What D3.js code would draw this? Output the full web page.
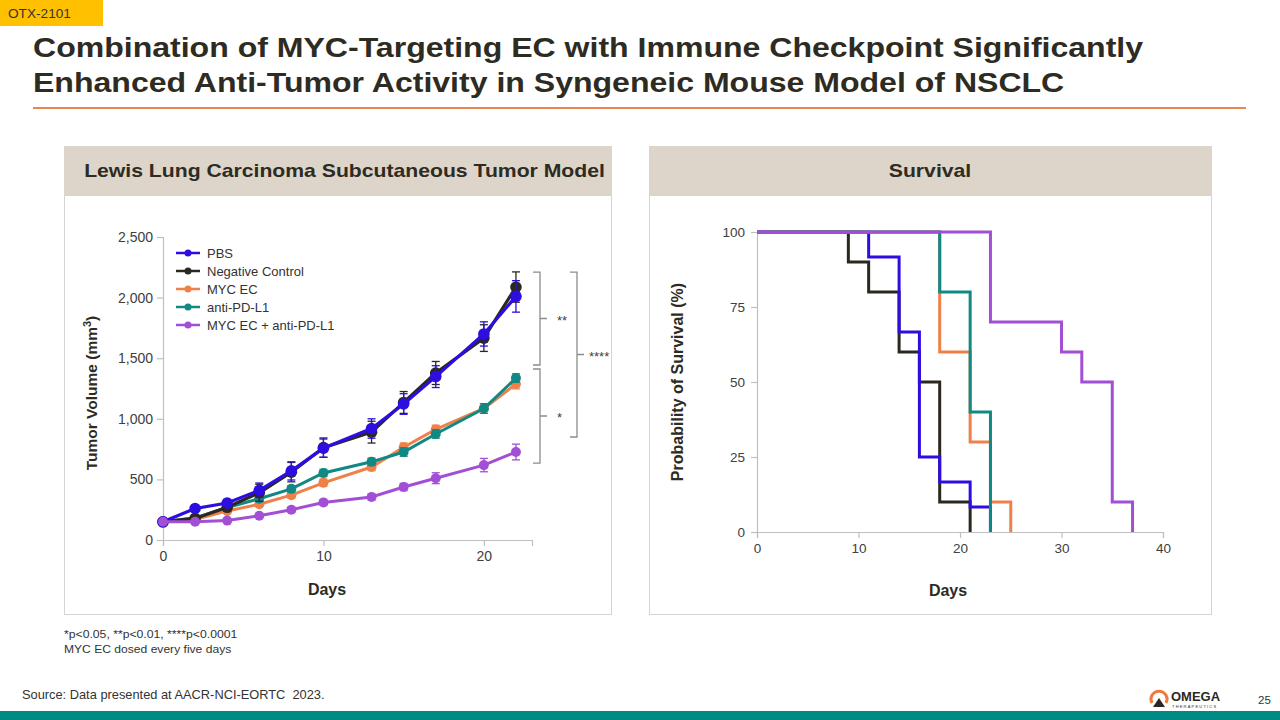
<!DOCTYPE html>
<html><head><meta charset="utf-8">
<script src="https://cdn.jsdelivr.net/npm/d3@7"></script>
<style>
html,body{margin:0;padding:0;background:#fff;}
svg{display:block;font-family:"Liberation Sans",Arial,sans-serif;}
</style></head>
<body><svg id="c" width="1280" height="720"></svg>
<script>
// ---------- DATA ----------
const days = [0, 2, 4, 6, 8, 10, 13, 15, 17, 20, 22];
const seriesNames = ["PBS", "Negative Control", "MYC EC", "anti-PD-L1", "MYC EC + anti-PD-L1"];
const volPBS   = [150, 260, 305, 410, 570, 758, 920, 1122, 1348, 1700, 2010];
const volNeg   = [150, 178, 270, 390, 560, 762, 890, 1135, 1378, 1666, 2087];
const volMYC   = [150, 170, 240, 295, 370, 472, 602, 765, 912, 1085, 1287];
const volPDL1  = [150, 183, 268, 340, 422, 553, 645, 726, 875, 1085, 1336];
const volCombo = [150, 150, 160, 200, 250, 310, 355, 437, 510, 618, 726];
const errPBS   = [0, 20, 30, 60, 75, 75, 80, 85, 90, 100, 130];
const errNeg   = [0, 20, 30, 70, 80, 80, 90, 90, 95, 110, 125];
const errMYC   = [0, 10, 15, 20, 25, 30, 30, 35, 35, 40, 40];
const errPDL1  = [0, 10, 15, 20, 25, 30, 30, 35, 35, 40, 35];
const errCombo = [0, 10, 10, 15, 20, 25, 25, 30, 45, 55, 65];
const volTicks = [0, 500, 1000, 1500, 2000, 2500];
const dayTicks = [0, 10, 20];
// significance brackets: [top value, bottom value, label]
const sigLabels = ["**", "*", "****"];
const sigTop    = [2211, 1411, 2211];
const sigBottom = [1444, 635, 850];

// Kaplan-Meier survival (time, % survival)
const survTimePBS   = [0, 11, 14, 16, 18, 21, 23];
const survPctPBS    = [100, 91.7, 66.7, 25, 16.7, 8.3, 0];
const survTimeNeg   = [0, 9, 11, 14, 16, 18, 21];
const survPctNeg    = [100, 90, 80, 60, 50, 10, 0];
const survTimeMYC   = [0, 18, 21, 23, 25];
const survPctMYC    = [100, 60, 30, 10, 0];
const survTimePDL1  = [0, 18, 21, 23];
const survPctPDL1   = [100, 80, 40, 0];
const survTimeCombo = [0, 23, 30, 32, 35, 37];
const survPctCombo  = [100, 70, 60, 50, 10, 0];
const survYTicks = [0, 25, 50, 75, 100];
const survXTicks = [0, 10, 20, 30, 40];

const colors = {
  "PBS": "#2d0ee0",
  "Negative Control": "#2c2820",
  "MYC EC": "#ef8048",
  "anti-PD-L1": "#108884",
  "MYC EC + anti-PD-L1": "#a24fd6"
};

// ---------- PAGE ----------
const svg = d3.select("#c");
const textCol = "#2e2b22";

// horizontally stretched slide text
function stext(x, y, str, size, opts = {}) {
  const sx = opts.sx || 1.12;
  const g = svg.append("g").attr("transform", `translate(${x},${y}) scale(${sx},1)`);
  const t = g.append("text").attr("x", 0).attr("y", 0).attr("font-size", size)
    .attr("fill", opts.fill || "#333").attr("text-anchor", opts.anchor || "start")
    .style("white-space", "pre");
  if (opts.bold) t.attr("font-weight", "bold");
  t.text(str);
  return t;
}

svg.append("rect").attr("x",0).attr("y",0).attr("width",103).attr("height",26).attr("fill","#ffc000");
stext(8, 18, "OTX-2101", 13, {sx:1.05});

stext(33, 57, "Combination of MYC-Targeting EC with Immune Checkpoint Significantly", 28, {bold:true, fill:textCol, sx:1.145});
stext(33, 92, "Enhanced Anti-Tumor Activity in Syngeneic Mouse Model of NSCLC", 28, {bold:true, fill:textCol, sx:1.145});

svg.append("line").attr("x1",33).attr("x2",1246).attr("y1",108).attr("y2",108).attr("stroke","#ea8450").attr("stroke-width",2);

function panel(x, w, label, dx){
  svg.append("rect").attr("x",x+0.5).attr("y",195.5).attr("width",w).attr("height",419).attr("fill","#fff").attr("stroke","#d4d4d4");
  svg.append("rect").attr("x",x).attr("y",146).attr("width",w+1).attr("height",49).attr("fill","#ddd5c9");
  stext(x+w/2+dx, 177, label, 19, {bold:true, fill:textCol, anchor:"middle", sx:1.115});
}
panel(64, 547, "Lewis Lung Carcinoma Subcutaneous Tumor Model", 7);
panel(649, 562, "Survival", 0);

// ---------- LEFT CHART ----------
const x1 = d3.scaleLinear().domain([0, 23]).range([163, 532]);
const y1 = d3.scaleLinear().domain([0, 2500]).range([540, 237]);
const axisCol = "#bfbfbf", tickText = "#404040";

function styleAxis(g, fs){
  g.selectAll("path,line").attr("stroke",axisCol).attr("stroke-width",1.2);
  g.selectAll("text").attr("fill",tickText).attr("font-size",fs).attr("font-family","Liberation Sans, Arial, sans-serif");
}
const gyl = svg.append("g").attr("transform","translate(163,0)")
  .call(d3.axisLeft(y1).tickValues(volTicks).tickFormat(d3.format(",")).tickSizeOuter(0).tickSize(6).tickPadding(4));
styleAxis(gyl, 14);
const gxl = svg.append("g").attr("transform","translate(0,540)")
  .call(d3.axisBottom(x1).tickValues(dayTicks).tickSizeOuter(0).tickSize(6).tickPadding(5));
styleAxis(gxl, 14);

svg.append("text").attr("transform","translate(97,393) rotate(-90)").attr("text-anchor","middle")
  .attr("font-size",15.5).attr("font-weight","bold").attr("fill",textCol)
  .html('Tumor Volume (mm<tspan dy="-6" font-size="11">3</tspan><tspan dy="6">)</tspan>');
svg.append("text").attr("x",327).attr("y",595).attr("text-anchor","middle").attr("font-size",16).attr("font-weight","bold").attr("fill",textCol).text("Days");

const growth = {
  "PBS": [volPBS, errPBS],
  "Negative Control": [volNeg, errNeg],
  "MYC EC": [volMYC, errMYC],
  "anti-PD-L1": [volPDL1, errPDL1],
  "MYC EC + anti-PD-L1": [volCombo, errCombo]
};
const drawOrder = ["MYC EC", "anti-PD-L1", "Negative Control", "PBS", "MYC EC + anti-PD-L1"];
const lineGen = d3.line().x(d => x1(d.day)).y(d => y1(d.v));
drawOrder.forEach(name => {
  const [vals, errs] = growth[name];
  const pts = days.map((d, i) => ({day: d, v: vals[i], e: errs[i]}));
  const g = svg.append("g");
  const col = colors[name];
  const big = (name === "PBS" || name === "Negative Control");
  pts.forEach(p => {
    if (p.e <= 0) return;
    const xx = x1(p.day);
    g.append("line").attr("x1",xx).attr("x2",xx).attr("y1",y1(p.v - p.e)).attr("y2",y1(p.v + p.e)).attr("stroke",col).attr("stroke-width",1.3);
    [p.v - p.e, p.v + p.e].forEach(v => g.append("line").attr("x1",xx-4).attr("x2",xx+4).attr("y1",y1(v)).attr("y2",y1(v)).attr("stroke",col).attr("stroke-width",1.3));
  });
  g.append("path").datum(pts).attr("d",lineGen).attr("fill","none").attr("stroke",col).attr("stroke-width",big?3.2:3);
  g.selectAll("circle").data(pts).join("circle").attr("cx",d => x1(d.day)).attr("cy",d => y1(d.v)).attr("r",big?5.8:5).attr("fill",col);
});

// legend
seriesNames.forEach((name, i) => {
  const yy = 253 + i * 18;
  svg.append("line").attr("x1",176).attr("x2",200).attr("y1",yy).attr("y2",yy).attr("stroke",colors[name]).attr("stroke-width",2.5);
  svg.append("circle").attr("cx",188).attr("cy",yy).attr("r",3.5).attr("fill",colors[name]);
  svg.append("text").attr("x",207).attr("y",yy+4.5).attr("font-size",13).attr("fill","#333").text(name);
});

// significance brackets
const bracketX = [533, 533, 570];
const labelDx  = [24, 24, 19];
sigLabels.forEach((label, i) => {
  const xb = bracketX[i], yTop = y1(sigTop[i]), yBot = y1(sigBottom[i]);
  const mid = (yTop + yBot) / 2, w = 7;
  const p = `M${xb},${yTop} h${w} V${yBot} h${-w} M${xb+w},${mid} h${w}`;
  svg.append("path").attr("d",p).attr("fill","none").attr("stroke","#8c8c8c").attr("stroke-width",1.3);
  svg.append("text").attr("x",xb+labelDx[i]).attr("y",mid+6).attr("font-size",13).attr("fill","#404040").text(label);
});

// ---------- RIGHT CHART ----------
const x2 = d3.scaleLinear().domain([0, 40]).range([757, 1163]);
const y2 = d3.scaleLinear().domain([0, 100]).range([532, 232]);
const gyr = svg.append("g").attr("transform","translate(757,0)")
  .call(d3.axisLeft(y2).tickValues(survYTicks).tickSizeOuter(0).tickSize(6).tickPadding(6));
styleAxis(gyr, 13.5);
const gxr = svg.append("g").attr("transform","translate(0,532)")
  .call(d3.axisBottom(x2).tickValues(survXTicks).tickSizeOuter(0).tickSize(6).tickPadding(5));
styleAxis(gxr, 13.5);

svg.append("text").attr("transform","translate(683,382) rotate(-90)").attr("text-anchor","middle")
  .attr("font-size",16).attr("font-weight","bold").attr("fill",textCol).text("Probability of Survival (%)");
svg.append("text").attr("x",948).attr("y",596).attr("text-anchor","middle").attr("font-size",16).attr("font-weight","bold").attr("fill",textCol).text("Days");

const surv = {
  "Negative Control": [survTimeNeg, survPctNeg],
  "PBS": [survTimePBS, survPctPBS],
  "MYC EC": [survTimeMYC, survPctMYC],
  "anti-PD-L1": [survTimePDL1, survPctPDL1],
  "MYC EC + anti-PD-L1": [survTimeCombo, survPctCombo]
};
const stepGen = d3.line().x(d => x2(d[0])).y(d => y2(d[1])).curve(d3.curveStepAfter);
["Negative Control", "PBS", "MYC EC", "anti-PD-L1", "MYC EC + anti-PD-L1"].forEach(name => {
  const [ts, ps] = surv[name];
  const pts = ts.map((t, i) => [t, ps[i]]);
  svg.append("path").datum(pts).attr("d",stepGen).attr("fill","none").attr("stroke",colors[name]).attr("stroke-width",3);
});

// ---------- FOOTNOTES ----------
stext(64, 638, "*p<0.05, **p<0.01, ****p<0.0001", 11, {sx:1.11});
stext(64, 653, "MYC EC dosed every five days", 11, {sx:1.1});
stext(22, 699, "Source: Data presented at AACR-NCI-EORTC  2023.", 12, {sx:1.07});
stext(1258, 704, "25", 11, {sx:1.05});

// logo
const lg = svg.append("g").attr("transform","translate(1150,688)");
lg.append("path").attr("d","M2,15 A8,8 0 1 1 16,15").attr("fill","none").attr("stroke","#ef7b3a").attr("stroke-width",3);
lg.append("path").attr("d","M9,10 L3,19 L15,19 Z").attr("fill","#2c2820");
lg.append("text").attr("x",21).attr("y",13).attr("font-size",13).attr("font-weight","bold").attr("fill","#2c2820").text("OMEGA");
lg.append("text").attr("x",22).attr("y",20).attr("font-size",4).attr("letter-spacing",1.2).attr("fill","#2c2820").text("THERAPEUTICS");

// bottom bar
svg.append("rect").attr("x",0).attr("y",711).attr("width",1280).attr("height",9).attr("fill","#008a85");
</script>
</body></html>
